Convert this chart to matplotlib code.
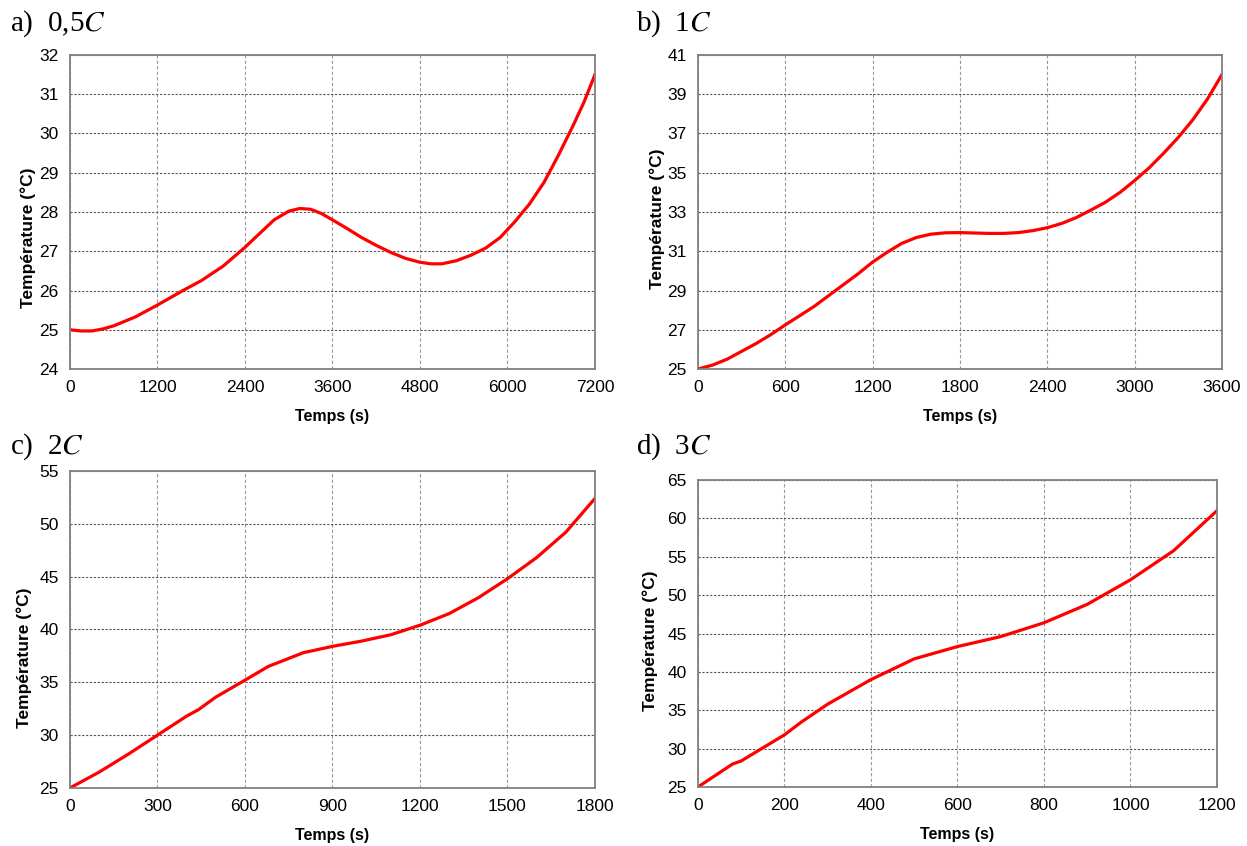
"""
Temperature vs time at four discharge rates (0.5C, 1C, 2C, 3C)
"""

import matplotlib
matplotlib.use("Agg")
import matplotlib.pyplot as plt

plt.rcParams['font.family'] = ['Liberation Sans', 'DejaVu Sans']
plt.rcParams['mathtext.fontset'] = 'stix'

# a) 0,5C
t_a = [0, 150, 300, 450, 600, 900, 1200, 1550, 1800, 2100, 2400, 2600, 2800, 3000, 3150,
       3300, 3450, 3600, 3800, 4000, 4200, 4400, 4600, 4800, 4950, 5100, 5300, 5500,
       5700, 5900, 6100, 6300, 6500, 6700, 6900, 7050, 7200]
T_a = [25.0, 24.97, 24.97, 25.02, 25.1, 25.33, 25.63, 26.0, 26.25, 26.62, 27.1, 27.45,
       27.8, 28.02, 28.09, 28.07, 27.96, 27.8, 27.58, 27.35, 27.15, 26.97, 26.82, 26.72,
       26.68, 26.68, 26.76, 26.9, 27.08, 27.35, 27.75, 28.2, 28.75, 29.45, 30.2, 30.8, 31.5]

# b) 1C
t_b = [0, 100, 200, 300, 400, 500, 600, 700, 800, 900, 1000, 1100, 1200, 1300, 1400,
       1500, 1600, 1700, 1800, 1900, 2000, 2100, 2200, 2300, 2400, 2500, 2600, 2700,
       2800, 2900, 3000, 3100, 3200, 3300, 3400, 3500, 3600]
T_b = [25.0, 25.2, 25.5, 25.9, 26.3, 26.75, 27.25, 27.72, 28.2, 28.75, 29.3, 29.85,
       30.45, 30.95, 31.4, 31.7, 31.87, 31.94, 31.95, 31.93, 31.91, 31.91, 31.95, 32.05,
       32.2, 32.42, 32.72, 33.1, 33.5, 34.0, 34.6, 35.25, 36.0, 36.8, 37.7, 38.75, 40.0]

# c) 2C
t_c = [0, 100, 200, 300, 400, 440, 500, 600, 680, 800, 900, 1000, 1100,
       1200, 1300, 1400, 1500, 1600, 1700, 1800]
T_c = [25.0, 26.5, 28.2, 30.0, 31.8, 32.4, 33.6, 35.2, 36.5, 37.8, 38.4, 38.9, 39.5,
       40.4, 41.5, 43.0, 44.8, 46.8, 49.2, 52.4]

# d) 3C
t_d = [0, 80, 100, 200, 240, 300, 400, 500, 600, 700, 800, 900, 1000, 1100, 1200]
T_d = [25.0, 28.0, 28.4, 31.8, 33.5, 35.8, 39.0, 41.7, 43.3, 44.6, 46.4, 48.8, 52.0, 55.8, 61.0]

panels = [
    # label, t, T, rect, x range/step, y range/step, ylabel coords
    ("a)  0,5$C$", t_a, T_a, [0.0561, 0.5638, 0.4210, 0.3712], (0, 7200, 1200), (24, 32, 1), (-0.065, 0.417)),
    ("b)  1$C$",   t_b, T_b, [0.5597, 0.5638, 0.4202, 0.3712], (0, 3600, 600), (25, 41, 2), (-0.063, 0.478)),
    ("c)  2$C$",   t_c, T_c, [0.0561, 0.0686, 0.4210, 0.3747], (0, 1800, 300), (25, 55, 5), (-0.072, 0.410)),
    ("d)  3$C$",   t_d, T_d, [0.5597, 0.0697, 0.4162, 0.3629], (0, 1200, 200), (25, 65, 5), (-0.077, 0.476)),
]
label_pos = [(0.008, 0.972), (0.510, 0.972), (0.008, 0.472), (0.510, 0.472)]

fig = plt.figure(figsize=(12.47, 8.46), dpi=100)

for (label, t, T, rect, xr, yr, ylc), (lx, ly) in zip(panels, label_pos):
    ax = fig.add_axes(rect)
    ax.plot(t, T, color='#ff0000', linewidth=2.3, solid_joinstyle='round')
    ax.set_xlim(xr[0], xr[1])
    ax.set_ylim(yr[0], yr[1])
    ax.set_xticks(range(xr[0], xr[1] + 1, xr[2]))
    ax.set_yticks(range(yr[0], yr[1] + 1, yr[2]))
    ax.tick_params(length=0, labelsize=12.5, pad=8)
    ax.grid(True, axis='y', color='#555555', linestyle=(0, (2, 1.5)), linewidth=0.8)
    ax.grid(True, axis='x', color='#999999', linestyle=(0, (3, 2)), linewidth=0.8)
    for s in ax.spines.values():
        s.set_color('#808080')
        s.set_linewidth(1.3)
    ax.set_xlabel('Temps (s)', fontsize=11.5, fontweight='bold', labelpad=10)
    ax.set_ylabel('Température (°C)', fontsize=12.5, fontweight='bold')
    ax.yaxis.set_label_coords(ylc[0], ylc[1])
    fig.text(lx, ly, label, fontsize=21, family='Liberation Serif', va='center', ha='left')

fig.savefig('out.png', dpi=100)
